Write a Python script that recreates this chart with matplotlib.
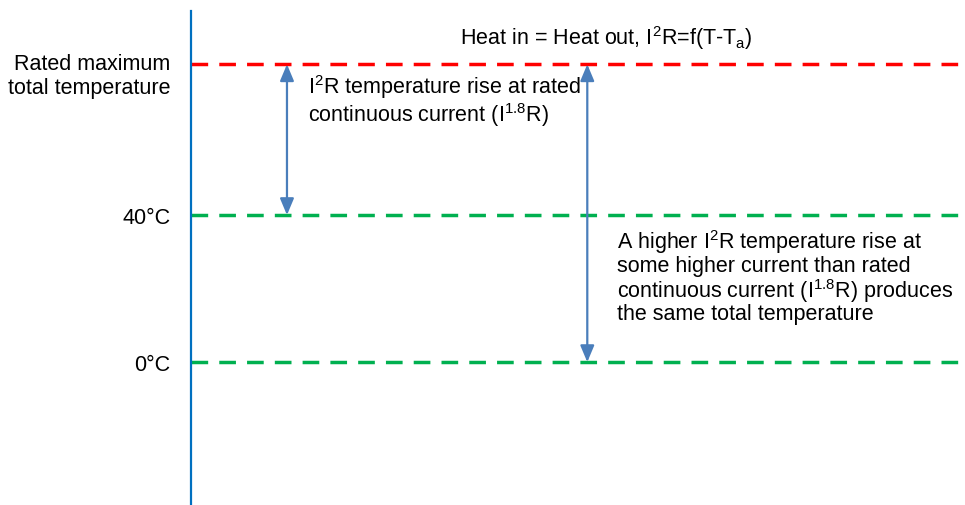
import matplotlib

matplotlib.use("Agg")
import matplotlib.pyplot as plt
from matplotlib.transforms import ScaledTranslation

plt.rcParams["font.family"] = ["Liberation Sans", "DejaVu Sans"]
plt.rcParams["mathtext.default"] = "regular"
plt.rcParams["lines.scale_dashes"] = False

# Temperature levels (degC-like scale, rated maximum estimated)
level_names = ["0°C", "40°C", "Rated maximum\ntotal temperature"]
level_values = [0, 40, 81]
level_colors = ["#00B050", "#00B050", "#FF0000"]

# Double-headed arrows: (x position, bottom level, top level)
arrow_x = [0.124, 0.512]
arrow_bottom = [40, 0]
arrow_top = [81, 81]

AXIS_BLUE = "#0070C0"
ARROW_BLUE = "#4A7EBB"
FS = 15.5

fig = plt.figure(figsize=(9.65, 5.06), dpi=100)
ax = fig.add_axes([191 / 965, 1 / 506, 1 - 191 / 965, 493 / 506])
ax.set_xlim(0, 1)
ax.set_ylim(-38.6, 95.5)

for s in ["top", "right", "bottom"]:
    ax.spines[s].set_visible(False)
ax.spines["left"].set_color(AXIS_BLUE)
ax.spines["left"].set_linewidth(1.6)
ax.set_xticks([])

ax.set_yticks(level_values)
ax.set_yticklabels(level_names, fontsize=FS, linespacing=1.15)
ax.tick_params(axis="y", length=0, pad=15)
# the two-line label sits a little below its line
top_label = ax.get_yticklabels()[-1]
top_label.set_transform(
    top_label.get_transform() + ScaledTranslation(0, -0.075, fig.dpi_scale_trans)
)

for v, c in zip(level_values, level_colors):
    ax.axhline(v, color=c, linewidth=2.5, dashes=(12, 8), zorder=1)

for x, b, t in zip(arrow_x, arrow_bottom, arrow_top):
    ax.annotate(
        "",
        xy=(x, t),
        xytext=(x, b),
        arrowprops=dict(
            arrowstyle="<|-|>,head_length=1.0,head_width=0.42",
            mutation_scale=10,
            color=ARROW_BLUE,
            lw=1.6,
            shrinkA=0,
            shrinkB=0,
        ),
        zorder=3,
    )

ax.text(
    0.536, 88.5,
    "Heat in = Heat out, I$^{2}$R=f(T-T$_{a}$)",
    fontsize=FS, ha="center", va="center",
)
ax.text(
    0.151, 78.8,
    "I$^{2}$R temperature rise at rated\ncontinuous current (I$^{1.8}$R)",
    fontsize=FS, ha="left", va="top", linespacing=0.98,
)
ax.text(
    0.550, 36.6,
    "A higher I$^{2}$R temperature rise at\nsome higher current than rated\n"
    "continuous current (I$^{1.8}$R) produces\nthe same total temperature",
    fontsize=FS, ha="left", va="top", linespacing=0.98,
)

fig.savefig("out.png", facecolor="white")
plt.close(fig)
